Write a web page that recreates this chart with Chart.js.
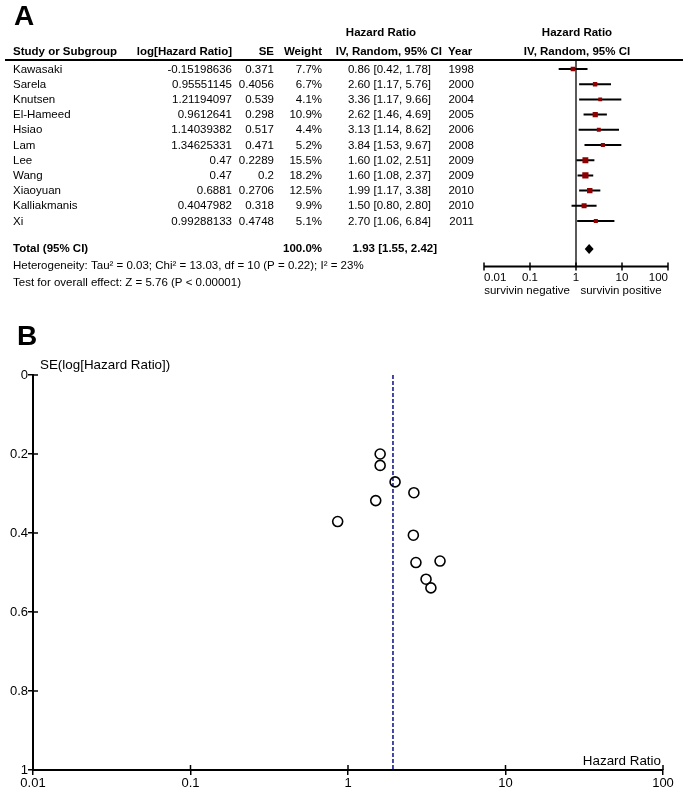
<!DOCTYPE html>
<html>
<head>
<meta charset="utf-8">
<script src="https://cdn.jsdelivr.net/npm/chart.js@4.4.1/dist/chart.umd.min.js"></script>
<style>
  html, body { margin: 0; padding: 0; background: #fff; }
  #wrap { position: relative; width: 683px; height: 792px; }
  #forestChart { position: absolute; left: 0; top: 0; }
  #funnelChart { position: absolute; left: 0; top: 300px; }
</style>
</head>
<body>
<div id="wrap">
  <canvas id="forestChart" width="683" height="300"></canvas>
  <canvas id="funnelChart" width="683" height="492"></canvas>
</div>
<script>
(() => {
    'use strict';

    // Study data
    const studies = ['Kawasaki', 'Sarela', 'Knutsen', 'El-Hameed', 'Hsiao', 'Lam',
        'Lee', 'Wang', 'Xiaoyuan', 'Kalliakmanis', 'Xi'];
    const logHR = [-0.15198636, 0.95551145, 1.21194097, 0.9612641, 1.14039382, 1.34625331,
        0.47, 0.47, 0.6881, 0.4047982, 0.99288133];
    const se = [0.371, 0.4056, 0.539, 0.298, 0.517, 0.471, 0.2289, 0.2, 0.2706, 0.318, 0.4748];
    const weights = [7.7, 6.7, 4.1, 10.9, 4.4, 5.2, 15.5, 18.2, 12.5, 9.9, 5.1];
    const hr = [0.86, 2.60, 3.36, 2.62, 3.13, 3.84, 1.60, 1.60, 1.99, 1.50, 2.70];
    const ciLow = [0.42, 1.17, 1.17, 1.46, 1.14, 1.53, 1.02, 1.08, 1.17, 0.80, 1.06];
    const ciHigh = [1.78, 5.76, 9.66, 4.69, 8.62, 9.67, 2.51, 2.37, 3.38, 2.80, 6.84];
    const years = [1998, 2000, 2004, 2005, 2006, 2008, 2009, 2009, 2010, 2010, 2011];

    // Pooled estimate
    const totalHR = 1.93;
    const totalLow = 1.55;
    const totalHigh = 2.42;

    // Tick labels
    const hrTicks = [0.01, 0.1, 1, 10, 100];
    const hrTickLabels = ['0.01', '0.1', '1', '10', '100'];
    const seTicks = [0, 0.2, 0.4, 0.6, 0.8, 1];
    const seTickLabels = ['0', '0.2', '0.4', '0.6', '0.8', '1'];

    const FAMILY = '"Liberation Sans", Arial, sans-serif';
    const font = (size, bold) => (bold ? 'bold ' : '') + size + 'px ' + FAMILY;

    // Row positions on the forest y scale
    const totalRow = 11.84;

    // CI whiskers as one broken line
    let ciSegments = [];
    hr.forEach((v, i) => {
        ciSegments.push({x: ciLow[i], y: i}, {x: ciHigh[i], y: i}, {x: null, y: null});
    });

    function line(ctx, x0, y0, x1, y1) {
        ctx.beginPath();
        ctx.moveTo(x0, y0);
        ctx.lineTo(x1, y1);
        ctx.stroke();
    }

    // Table, axis and diamond of panel A
    const forestDecor = {
        id: 'forestDecor',
        beforeDatasetsDraw(chart) {
            const {ctx, scales: {x, y}} = chart;
            const x1 = x.getPixelForValue(1);
            ctx.save();
            ctx.strokeStyle = '#000';
            ctx.lineWidth = 1.3;
            line(ctx, x1, 61, x1, y.getPixelForValue(13));
            ctx.restore();
        },
        afterDraw(chart) {
            const {ctx, scales: {x, y}} = chart;
            const txt = (s, px, py, align, bold) => {
                ctx.font = font(11.5, bold);
                ctx.textAlign = align;
                ctx.fillText(s, px, py);
            };
            ctx.save();
            ctx.fillStyle = '#000';
            ctx.strokeStyle = '#000';
            ctx.textBaseline = 'middle';

            ctx.font = font(28, true);
            ctx.textAlign = 'left';
            ctx.fillText('A', 14, 17);

            // Headers
            txt('Hazard Ratio', 381, 33, 'center', true);
            txt('Hazard Ratio', 577, 33, 'center', true);
            txt('Study or Subgroup', 13, 52, 'left', true);
            txt('log[Hazard Ratio]', 232, 52, 'right', true);
            txt('SE', 274, 52, 'right', true);
            txt('Weight', 322, 52, 'right', true);
            txt('IV, Random, 95% CI', 442, 52, 'right', true);
            txt('Year', 448, 52, 'left', true);
            txt('IV, Random, 95% CI', 577, 52, 'center', true);

            ctx.lineWidth = 2;
            line(ctx, 5, 60, 683, 60);

            // Study rows
            studies.forEach((s, i) => {
                const py = y.getPixelForValue(i) + 0.5;
                txt(s, 13, py, 'left');
                txt(String(logHR[i]), 232, py, 'right');
                txt(String(se[i]), 274, py, 'right');
                txt(weights[i].toFixed(1) + '%', 322, py, 'right');
                txt(hr[i].toFixed(2) + ' [' + ciLow[i].toFixed(2) + ', ' + ciHigh[i].toFixed(2) + ']', 431, py, 'right');
                txt(String(years[i]), 474, py, 'right');
            });

            // Total row
            const ty = y.getPixelForValue(totalRow);
            txt('Total (95% CI)', 13, ty, 'left', true);
            txt('100.0%', 322, ty, 'right', true);
            txt(totalHR.toFixed(2) + ' [' + totalLow.toFixed(2) + ', ' + totalHigh.toFixed(2) + ']', 437, ty, 'right', true);
            txt('Heterogeneity: Tau\u00b2 = 0.03; Chi\u00b2 = 13.03, df = 10 (P = 0.22); I\u00b2 = 23%', 13, 266, 'left');
            txt('Test for overall effect: Z = 5.76 (P < 0.00001)', 13, 283, 'left');

            // Pooled diamond
            ctx.beginPath();
            ctx.moveTo(x.getPixelForValue(totalLow), ty);
            ctx.lineTo(x.getPixelForValue(totalHR), ty - 5);
            ctx.lineTo(x.getPixelForValue(totalHigh), ty);
            ctx.lineTo(x.getPixelForValue(totalHR), ty + 5);
            ctx.closePath();
            ctx.fill();

            // Hazard ratio axis
            const ay = y.getPixelForValue(13);
            ctx.lineWidth = 2;
            line(ctx, x.getPixelForValue(hrTicks[0]), ay, x.getPixelForValue(hrTicks[hrTicks.length - 1]), ay);
            ctx.lineWidth = 1.5;
            hrTicks.forEach((v, i) => {
                const px = x.getPixelForValue(v);
                line(ctx, px, ay - 4, px, ay + 4);
                let align = 'center';
                if (i === 0) align = 'left';
                if (i === hrTicks.length - 1) align = 'right';
                txt(hrTickLabels[i], px, ay + 11, align);
            });
            txt('survivin negative', 527, ay + 24, 'center');
            txt('survivin positive', 621, ay + 24, 'center');
            ctx.restore();
        }
    };

    new Chart(document.getElementById('forestChart'), {
        type: 'scatter',
        data: {
            datasets: [{
                type: 'line',
                data: ciSegments,
                borderColor: '#000',
                borderWidth: 2,
                pointRadius: 0,
                spanGaps: false,
                order: 2
            }, {
                data: hr.map((v, i) => ({x: v, y: i})),
                pointStyle: 'rect',
                // square grows with study weight
                pointRadius: (c) => 1.2 + 0.75 * Math.sqrt(weights[c.dataIndex]),
                backgroundColor: '#900000',
                borderWidth: 0,
                order: 1
            }]
        },
        options: {
            responsive: false,
            animation: false,
            layout: {padding: {left: 484, right: 15, top: 61.4, bottom: 33.4}},
            plugins: {legend: {display: false}, tooltip: {enabled: false}},
            scales: {
                x: {type: 'logarithmic', min: 0.01, max: 100, display: false},
                y: {type: 'linear', min: -0.5, max: 13, reverse: true, display: false}
            }
        },
        plugins: [forestDecor]
    });

    // Panel B: funnel plot
    const funnelDecor = {
        id: 'funnelDecor',
        afterDraw(chart) {
            const {ctx, chartArea, scales: {x, y}} = chart;
            ctx.save();
            ctx.strokeStyle = '#000';
            ctx.fillStyle = '#000';
            ctx.lineWidth = 1.5;
            // inner half of the crossing ticks
            hrTicks.forEach((v) => {
                const px = x.getPixelForValue(v);
                line(ctx, px, chartArea.bottom, px, chartArea.bottom - 5);
            });
            seTicks.forEach((v) => {
                const py = y.getPixelForValue(v);
                line(ctx, chartArea.left, py, chartArea.left + 5, py);
            });
            ctx.textBaseline = 'middle';
            ctx.font = font(28, true);
            ctx.textAlign = 'left';
            ctx.fillText('B', 17, 37.5);
            ctx.font = font(13.4);
            ctx.fillText('SE(log[Hazard Ratio])', 40, 65.5);
            ctx.textAlign = 'right';
            ctx.fillText('Hazard Ratio', 661, 461);
            ctx.restore();
        }
    };

    const axisStyle = {
        grid: {drawOnChartArea: false, color: '#000', lineWidth: 1.5, tickLength: 5},
        border: {color: '#000', width: 2}
    };

    new Chart(document.getElementById('funnelChart'), {
        type: 'scatter',
        data: {
            datasets: [{
                type: 'line',
                data: [{x: totalHR, y: 0}, {x: totalHR, y: 1}],
                borderColor: '#1c1c8c',
                borderWidth: 1.6,
                borderDash: [4, 2],
                pointRadius: 0,
                order: 2
            }, {
                data: hr.map((v, i) => ({x: v, y: se[i]})),
                pointStyle: 'circle',
                pointRadius: 5,
                borderColor: '#000',
                borderWidth: 1.6,
                backgroundColor: 'rgba(255,255,255,0)',
                order: 1
            }]
        },
        options: {
            responsive: false,
            animation: false,
            layout: {padding: {left: 0, right: 20, top: 75, bottom: 0}},
            plugins: {legend: {display: false}, tooltip: {enabled: false}},
            scales: {
                x: {
                    type: 'logarithmic',
                    min: 0.01,
                    max: 100,
                    position: 'bottom',
                    afterBuildTicks: (s) => { s.ticks = hrTicks.map(v => ({value: v})); },
                    afterFit: (s) => { s.height = 22; },
                    ticks: {
                        callback: (v, i) => hrTickLabels[i],
                        color: '#000',
                        font: {size: 13, family: FAMILY},
                        padding: 1,
                        maxRotation: 0,
                        autoSkip: false
                    },
                    ...axisStyle
                },
                y: {
                    type: 'linear',
                    min: 0,
                    max: 1,
                    reverse: true,
                    afterBuildTicks: (s) => { s.ticks = seTicks.map(v => ({value: v})); },
                    afterFit: (s) => { s.width = 33; },
                    ticks: {
                        callback: (v, i) => seTickLabels[i],
                        color: '#000',
                        font: {size: 13, family: FAMILY},
                        padding: 0,
                        autoSkip: false
                    },
                    ...axisStyle
                }
            }
        },
        plugins: [funnelDecor]
    });
})();
</script>
</body>
</html>
